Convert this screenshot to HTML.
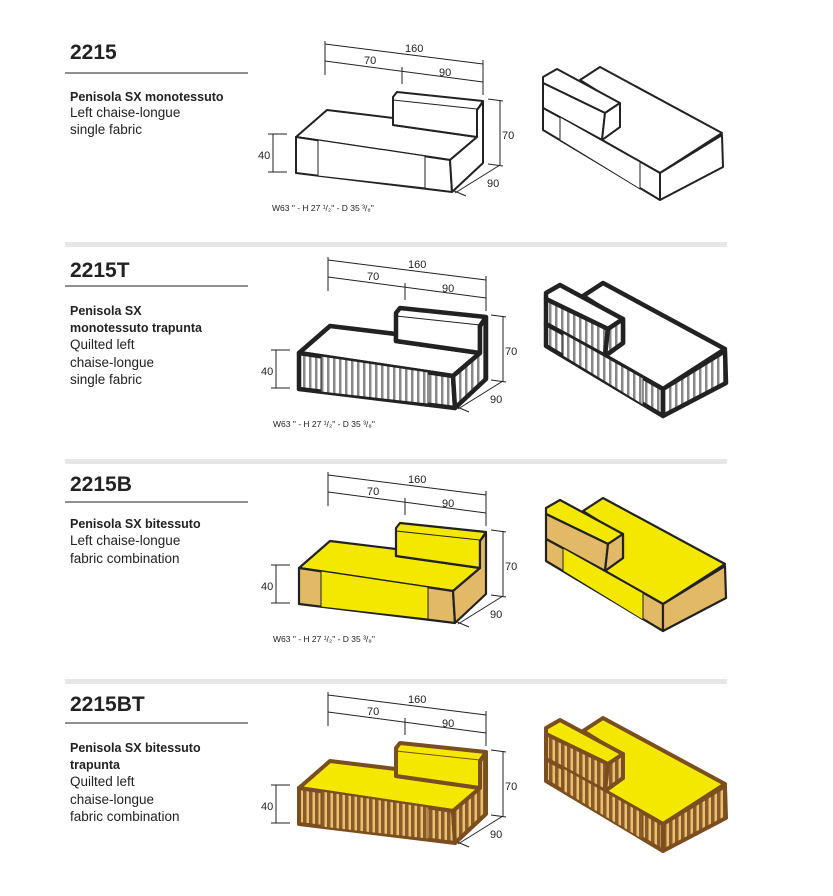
<!DOCTYPE html>
<html><head><meta charset="utf-8"><style>
body{margin:0;background:#fff;width:833px;height:896px;overflow:hidden}
svg{display:block}
.t{font-family:"Liberation Sans",sans-serif;fill:#222}
.ti{font-size:21px;font-weight:bold}
.b{font-size:12.5px;font-weight:bold}
.r{font-size:13.5px}
.d{font-family:"Liberation Sans",sans-serif;font-size:11px;fill:#222}
.s{font-family:"Liberation Sans",sans-serif;font-size:8.5px;fill:#222}
.dim{stroke:#222;stroke-width:1;fill:none}
</style></head><body>
<svg width="833" height="896" viewBox="0 0 833 896" xmlns="http://www.w3.org/2000/svg">
<defs>
<pattern id="gs" width="6" height="10" patternUnits="userSpaceOnUse"><rect width="6" height="10" fill="#fff"/><rect width="2.5" height="10" fill="#888"/></pattern>
<pattern id="bs" width="6" height="10" patternUnits="userSpaceOnUse"><rect width="6" height="10" fill="#e8c070"/><rect width="3.5" height="10" fill="#8a5a28"/></pattern>
<g id="dims">
<line class="dim" x1="325" y1="44" x2="483" y2="64"/>
<line class="dim" x1="325" y1="61" x2="483" y2="82"/>
<line class="dim" x1="325" y1="41" x2="325" y2="75"/>
<line class="dim" x1="402" y1="67" x2="402" y2="84"/>
<line class="dim" x1="483" y1="60" x2="483" y2="95"/>
<text class="d" x="405" y="52">160</text>
<text class="d" x="364" y="64">70</text>
<text class="d" x="439" y="76">90</text>
<line class="dim" x1="268" y1="134" x2="287" y2="134"/>
<line class="dim" x1="268" y1="172" x2="287" y2="172"/>
<line class="dim" x1="273" y1="134" x2="273" y2="172"/>
<text class="d" x="258" y="159">40</text>
<line class="dim" x1="488" y1="99" x2="503" y2="101"/>
<line class="dim" x1="500" y1="100" x2="500" y2="165"/>
<line class="dim" x1="488" y1="164" x2="503" y2="166"/>
<text class="d" x="502" y="139">70</text>
<line class="dim" x1="455" y1="193" x2="500" y2="165"/>
<line class="dim" x1="452" y1="190" x2="466" y2="196"/>
<text class="d" x="487" y="187">90</text>
</g>
<g id="lsofa">
<polygon points="296,137 327,110 393,118 393,125 477,137 450,160" style="fill:var(--top)"/>
<polygon points="397,92 483,101 477,110 477,137 393,125 393,97" style="fill:var(--top)"/>
<line x1="393" y1="100" x2="477" y2="109" style="stroke-width:1"/>
<polygon points="296,137 450,160 452,192 296,173" style="fill:var(--front)"/>
<polygon points="318,140 425,156 425,188 318,176" style="fill:var(--mid);stroke-width:1"/>
<polygon points="483,102 483,163 452,192 450,160 477,137 477,110" style="fill:var(--side)"/>
</g>
<g id="rsofa">
<polygon points="580,80 600,67 722,133 660,173 602,140 620,127 620,105" style="fill:var(--top)"/>
<polygon points="543,77 557,69 620,103 605,113 543,83" style="fill:var(--top)"/>
<polygon points="543,83 605,113 602,140 543,108" style="fill:var(--side)"/>
<polygon points="605,113 620,103 620,127 602,140" style="fill:var(--side)"/>
<polygon points="543,108 602,140 660,173 660,200 543,130" style="fill:var(--front)"/>
<polygon points="560,117 640,162 640,189 560,140" style="fill:var(--mid);stroke-width:1"/>
<polygon points="660,173 722,135 723,167 660,200" style="fill:var(--side)"/>
</g>
</defs>

<rect x="65" y="242" width="662" height="5" fill="#e6e6e6"/>
<rect x="65" y="459" width="662" height="5" fill="#e6e6e6"/>
<rect x="65" y="679" width="662" height="5" fill="#e6e6e6"/>

<text class="t ti" x="70" y="59">2215</text>
<line x1="65" y1="73" x2="248" y2="73" stroke="#222"/>
<text class="t b" x="70" y="101">Penisola SX monotessuto</text>
<text class="t r" x="70" y="117">Left chaise-longue</text>
<text class="t r" x="70" y="134">single fabric</text>

<text class="t ti" x="70" y="277">2215T</text>
<line x1="65" y1="286" x2="248" y2="286" stroke="#222"/>
<text class="t b" x="70" y="315">Penisola SX</text>
<text class="t b" x="70" y="332">monotessuto trapunta</text>
<text class="t r" x="70" y="349">Quilted left</text>
<text class="t r" x="70" y="367">chaise-longue</text>
<text class="t r" x="70" y="384">single fabric</text>

<text class="t ti" x="70" y="491">2215B</text>
<line x1="65" y1="502" x2="248" y2="502" stroke="#222"/>
<text class="t b" x="70" y="528">Penisola SX bitessuto</text>
<text class="t r" x="70" y="545">Left chaise-longue</text>
<text class="t r" x="70" y="563">fabric combination</text>

<text class="t ti" x="70" y="711">2215BT</text>
<line x1="65" y1="723" x2="248" y2="723" stroke="#222"/>
<text class="t b" x="70" y="752">Penisola SX bitessuto</text>
<text class="t b" x="70" y="769">trapunta</text>
<text class="t r" x="70" y="786">Quilted  left</text>
<text class="t r" x="70" y="804">chaise-longue</text>
<text class="t r" x="70" y="821">fabric combination</text>

<use href="#dims"/>
<g stroke="#222" stroke-width="2" stroke-linejoin="round" stroke-linecap="round" style="--top:#fff;--front:#fff;--mid:#fff;--side:#fff"><use href="#lsofa"/><use href="#rsofa"/></g>
<text class="s" x="272" y="211">W63 " - H 27 ¹/₂" - D 35 ³/₈"</text>

<g transform="translate(3,216)">
<use href="#dims"/>
<g stroke="#222" stroke-width="4.5" stroke-linejoin="round" stroke-linecap="round" style="--top:#fff;--front:url(#gs);--mid:url(#gs);--side:url(#gs)"><use href="#lsofa"/><use href="#rsofa"/></g>
<text class="s" x="270" y="211">W63 " - H 27 ¹/₂" - D 35 ³/₈"</text>
</g>

<g transform="translate(3,431)">
<use href="#dims"/>
<g stroke="#222" stroke-width="2.2" stroke-linejoin="round" stroke-linecap="round" style="--top:#f5e800;--front:#e2b966;--mid:#f5e800;--side:#e2b966"><use href="#lsofa"/><use href="#rsofa"/></g>
<text class="s" x="270" y="211">W63 " - H 27 ¹/₂" - D 35 ³/₈"</text>
</g>

<g transform="translate(3,651)">
<use href="#dims"/>
<g stroke="#7a4e1e" stroke-width="4" stroke-linejoin="round" stroke-linecap="round" style="--top:#f5e800;--front:url(#bs);--mid:url(#bs);--side:url(#bs)"><use href="#lsofa"/><use href="#rsofa"/></g>
</g>
</svg>
</body></html>
